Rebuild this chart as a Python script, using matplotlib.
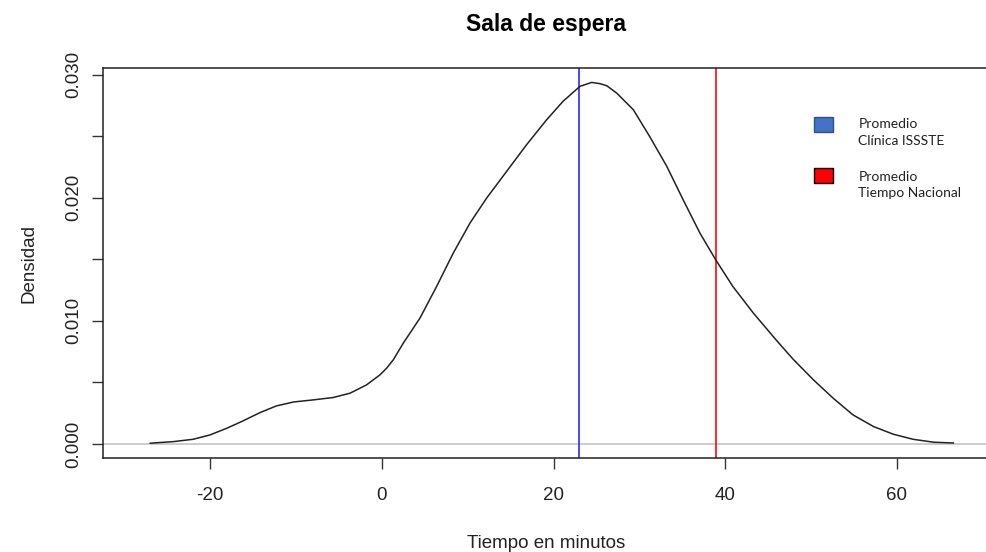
import matplotlib.pyplot as plt
from matplotlib.patches import Rectangle

# densidad estimada del tiempo en sala de espera (minutos)
tiempo = [-27.0, -24.3, -22.0, -20.05, -18.1, -16.2, -14.2, -12.3, -10.3,
          -8.0, -5.7, -3.73, -1.79, -0.23, 0.54, 1.32, 2.49, 4.43, 6.37,
          8.31, 10.26, 12.2, 14.53, 16.86, 19.2, 21.1, 23.08, 24.44, 25.4,
          26.2, 27.35, 29.3, 31.2, 33.2, 35.1, 37.06, 38.9, 40.9, 43.3,
          46.0, 47.9, 50.3, 52.6, 54.9, 57.3, 59.6, 61.9, 64.3, 66.6]
densidad = [0.00006, 0.00019, 0.00038, 0.00073, 0.00127, 0.00187, 0.00255,
            0.00309, 0.00341, 0.00358, 0.00377, 0.00412, 0.0048, 0.00561,
            0.00615, 0.00683, 0.00819, 0.01022, 0.01279, 0.0155, 0.01794,
            0.01997, 0.02214, 0.02431, 0.02634, 0.02783, 0.02905, 0.02937,
            0.02927, 0.0291, 0.02851, 0.02715, 0.02498, 0.02255, 0.01984,
            0.01713, 0.01496, 0.01279, 0.01062, 0.00840, 0.00690, 0.0052,
            0.00371, 0.00236, 0.00141, 0.00079, 0.00038, 0.00014, 0.00008]

prom_clinica = 23.0
prom_nacional = 38.9

xticks = [-20, 0, 20, 40, 60]
yticks = [0.000, 0.005, 0.010, 0.015, 0.020, 0.025, 0.030]
ylabels = ['0.000', '', '0.010', '', '0.020', '', '0.030']

leyenda = ['Promedio\nClínica ISSSTE', 'Promedio\nTiempo Nacional']
leyenda_relleno = ['#4472c4', '#ff0000']
leyenda_borde = ['#2f528f', '#000000']

plt.rcParams['font.family'] = ['Liberation Sans', 'DejaVu Sans']
plt.rcParams['axes.unicode_minus'] = False

fig = plt.figure(figsize=(9.86, 5.52), dpi=100)
ax = fig.add_axes([0.1045, 0.1703, 0.899, 0.7065])

ax.axhline(0, color='#c8c8c8', lw=1.3, zorder=1)
ax.plot(tiempo, densidad, color='#222222', lw=1.1, zorder=3)
ax.axvline(prom_clinica, color='#3b3bff', lw=1.3, zorder=2)
ax.axvline(prom_nacional, color='#ff1a1a', lw=1.3, zorder=2)

ax.set_xlim(-32.5, 70.8)
ax.set_ylim(-0.00114, 0.03054)
ax.set_xticks(xticks)
ax.set_yticks(yticks)
ax.set_yticklabels(ylabels, rotation=90, va='center')
ax.tick_params(axis='both', direction='out', length=8, width=1,
               labelsize=13.5, colors='#333333', labelcolor='#222222')
ax.tick_params(axis='x', pad=13)
ax.tick_params(axis='y', pad=7)
for s in ax.spines.values():
    s.set_color('#222222')
    s.set_linewidth(1.1)
ax.spines['right'].set_visible(False)

ax.set_xlabel('Tiempo en minutos', fontsize=13.5, color='#222222', labelpad=22)
ax.set_ylabel('Densidad', fontsize=13.5, color='#222222', labelpad=20)
ax.set_title('Sala de espera', fontsize=16.5, fontweight='bold', pad=27)

# leyenda: cuadro alineado con la primera linea de cada etiqueta
for i, (txt, fc, ec) in enumerate(zip(leyenda, leyenda_relleno, leyenda_borde)):
    y0 = 0.836 - i * 0.130
    ax.add_patch(Rectangle((0.802, y0), 0.0214, 0.0385, transform=ax.transAxes,
                           facecolor=fc, edgecolor=ec, lw=1.0, zorder=5))
    ax.text(0.852, 0.835 - i * 0.1344, txt, transform=ax.transAxes,
            ha='left', va='center', fontsize=10, family='Lato',
            color='#222222', linespacing=1.45)

fig.savefig('out.png', dpi=100)
